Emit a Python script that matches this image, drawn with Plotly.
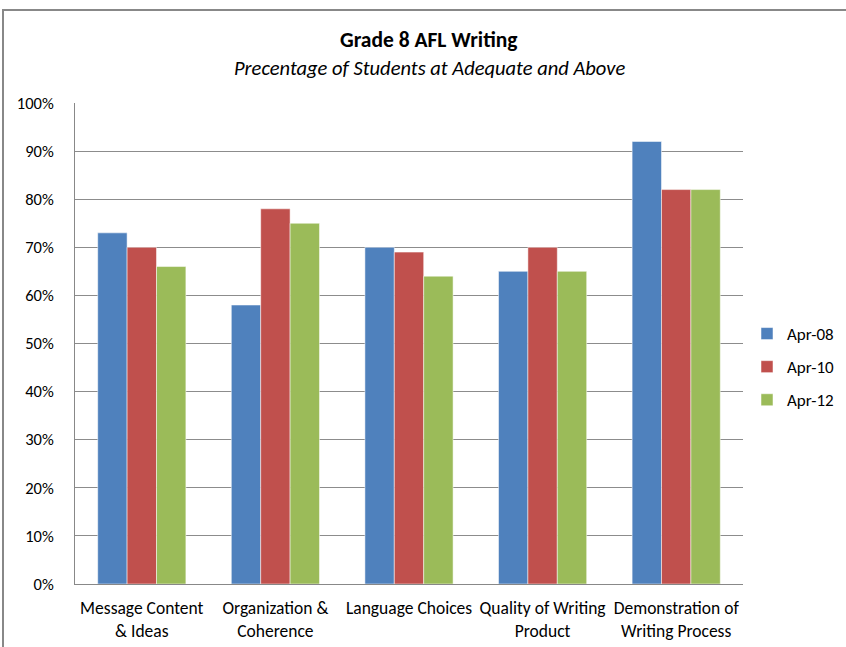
import plotly.graph_objects as go

categories = ["Message Content<br>& Ideas", "Organization &<br>Coherence", "Language Choices",
              "Quality of Writing<br>Product", "Demonstration of<br>Writing Process"]
series_names = ["Apr-08", "Apr-10", "Apr-12"]
apr08 = [73, 58, 70, 65, 92]
apr10 = [70, 78, 69, 70, 82]
apr12 = [66, 75, 64, 65, 82]
colors = ["#4F81BD", "#C0504D", "#9BBB59"]
y_ticks = [0, 10, 20, 30, 40, 50, 60, 70, 80, 90, 100]
y_labels = [f"{v}%" for v in y_ticks]

FONT = "Carlito, 'Liberation Sans Narrow', 'Arial Narrow', 'DejaVu Sans Condensed', sans-serif"

fig = go.Figure()
for name, vals, c in zip(series_names, [apr08, apr10, apr12], colors):
    fig.add_trace(go.Bar(x=categories, y=vals, name=name, marker_color=c, legendgroup=name,
                         marker_line=dict(color="rgba(255,255,255,0.5)", width=1)))

W, H = 846, 647
ml, mr, mt, mb = 75, 103, 103, 63
pw = W - ml - mr
ph = H - mt - mb

fig.update_layout(
    width=W, height=H,
    margin=dict(l=ml, r=mr, t=mt, b=mb, autoexpand=False),
    paper_bgcolor="white", plot_bgcolor="white",
    barmode="group", bargap=0.34, bargroupgap=0,
    font=dict(family=FONT, size=17, color="#000000"),
    showlegend=True,
    legend=dict(x=(747 - ml) / pw, y=(584 - 316) / ph, xanchor="left", yanchor="top",
                font=dict(size=17), itemwidth=30, tracegroupgap=8,
                bgcolor="rgba(0,0,0,0)"),
    annotations=[
        dict(text="<b>Grade 8 AFL Writing</b>", xref="paper", yref="paper",
             x=(428 - ml) / pw, y=(584 - 40) / ph, xanchor="center", yanchor="middle",
             showarrow=False, font=dict(size=21.5, family=FONT)),
        dict(text="<i>Precentage of Students at Adequate and Above</i>", xref="paper", yref="paper",
             x=(429 - ml) / pw, y=(584 - 68) / ph, xanchor="center", yanchor="middle",
             showarrow=False, font=dict(size=20.5, family=FONT)),
    ],
    shapes=[
        dict(type="rect", xref="paper", yref="paper",
             x0=(3 - ml) / pw, x1=(900 - ml) / pw, y0=(584 - 700) / ph, y1=(584 - 10) / ph,
             line=dict(color="#888888", width=2), fillcolor="rgba(0,0,0,0)", layer="below"),
    ],
)
fig.update_xaxes(showline=True, linecolor="#888888", linewidth=1, showgrid=False,
                 ticks="", tickfont=dict(size=17.5), ticklabelstandoff=8)
fig.update_yaxes(range=[0, 100], tickvals=y_ticks, ticktext=y_labels,
                 showgrid=True, gridcolor="#8c8c8c", gridwidth=1,
                 showline=True, linecolor="#888888", linewidth=1,
                 ticks="", tickfont=dict(size=16.5), ticklabelstandoff=17, zeroline=False)

fig.write_html("out.html")
